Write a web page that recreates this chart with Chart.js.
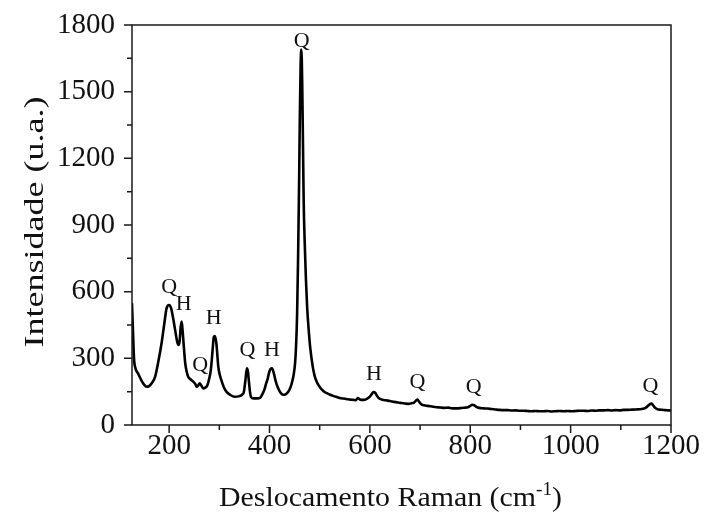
<!DOCTYPE html>
<html>
<head>
<meta charset="utf-8">
<title>Espectro Raman</title>
<script src="https://cdn.jsdelivr.net/npm/chart.js@4.4.1/dist/chart.umd.min.js"></script>
<style>
  html, body { margin: 0; padding: 0; background: #fff; }
  #wrap { width: 707px; height: 514px; }
</style>
</head>
<body>
<div id="wrap"><canvas id="raman" width="707" height="514"></canvas></div>
<script>
// Raman shift (cm-1) and measured intensity (a.u.)
const ramanShift = [
  126, 128, 130, 133, 138, 145, 150, 155, 160, 166, 172, 178, 185, 190, 195, 200,
  204, 208, 212, 216, 219, 221, 223, 225, 227, 229, 232, 235, 238, 243, 248, 252,
  255, 258, 261, 264, 268, 272, 276, 280, 283, 286, 289, 291, 294, 298, 301, 304,
  309, 314, 322, 331, 340, 346, 349, 352, 355, 357, 359, 361, 363, 368, 376, 381,
  386, 390, 393, 396, 399, 402, 405, 408, 412, 417, 422, 427, 432, 437, 441, 444,
  448, 451, 453, 455, 457, 459, 460.5, 462, 463.5, 465, 466.5, 468, 470, 472.5, 475, 478,
  481, 486, 490, 494, 499, 504, 509, 514, 520, 527, 534, 540, 547, 555, 561, 567,
  572, 576, 580, 587, 594, 600, 604, 607, 610, 614, 618, 625, 632, 640, 648, 656,
  663, 670, 677, 683, 688, 692, 695, 698, 703, 710, 718, 726, 733, 740, 748, 756,
  764, 772, 780, 788, 795, 800, 804, 808, 812, 818, 826, 834, 842, 850, 858, 866,
  874, 882, 890, 898, 906, 914, 922, 930, 938, 946, 954, 962, 970, 978, 986, 994,
  1002, 1010, 1018, 1026, 1034, 1042, 1050, 1058, 1066, 1074, 1082, 1090, 1098, 1106, 1114, 1122,
  1130, 1138, 1144, 1150, 1155, 1158, 1161, 1164, 1168, 1173, 1180, 1188, 1194, 1200
];
const intensity = [
  548, 420, 300, 255, 232, 200, 182, 172, 175, 190, 217, 280, 369, 450, 526, 540,
  525, 480, 427, 375, 360, 380, 440, 465, 420, 360, 279, 240, 217, 205, 195, 185,
  172, 178, 188, 178, 165, 168, 178, 210, 247, 320, 395, 400, 370, 262, 225, 202,
  170, 150, 135, 127, 130, 138, 150, 202, 255, 240, 195, 150, 127, 120, 120, 122,
  140, 160, 185, 205, 235, 252, 255, 238, 200, 166, 145, 136, 138, 148, 165, 185,
  225, 280, 360, 500, 760, 1100, 1400, 1620, 1690, 1560, 1300, 1020, 830, 660, 530, 430,
  350, 265, 220, 195, 175, 160, 150, 143, 137, 131, 126, 122, 119, 116, 114, 113,
  112, 121, 115, 113, 118, 128, 140, 148, 146, 132, 120, 114, 111, 108, 104, 101,
  99, 97, 95, 98, 101, 110, 114, 105, 92, 88, 85, 82, 80, 79, 77, 78,
  75, 75, 76, 78, 80, 86, 91, 89, 82, 77, 75, 74, 72, 70, 68, 67,
  67, 65, 66, 64, 64, 63, 62, 63, 62, 62, 63, 61, 62, 63, 62, 63,
  62, 63, 64, 64, 63, 65, 64, 66, 66, 67, 65, 67, 66, 68, 68, 69,
  70, 71, 73, 78, 88, 94, 96, 90, 78, 71, 69, 67, 66, 65
];

// band assignments: Q = quartzo, H = hematita
const peakShifts = [200, 229, 262, 289, 356, 405, 464, 608, 695, 807, 1159];
const peakPhases = ['Q', 'H', 'Q', 'H', 'Q', 'H', 'Q', 'H', 'Q', 'Q', 'Q'];

const xTicks = [200, 300, 400, 500, 600, 700, 800, 900, 1000, 1100, 1200];
const xLabelled = [200, 400, 600, 800, 1000, 1200];
const yTicks = [0, 150, 300, 450, 600, 750, 900, 1050, 1200, 1350, 1500, 1650, 1800];
const yLabelled = [0, 300, 600, 900, 1200, 1500, 1800];

const serif = "'Liberation Serif', 'Times New Roman', serif";

// draws a run of text pieces (with optional superscripts) squeezed to a given length
function drawRun(ctx, parts, cx, cy, length, angle) {
  let total = 0;
  parts.forEach(p => {
    ctx.font = p.size + 'px ' + serif;
    p.w = ctx.measureText(p.t).width;
    total += p.w;
  });
  ctx.save();
  ctx.translate(cx, cy);
  ctx.rotate(angle);
  ctx.scale(length / total, 1);
  ctx.textAlign = 'left';
  let pos = -total / 2;
  parts.forEach(p => {
    ctx.font = p.size + 'px ' + serif;
    ctx.fillText(p.t, pos, -p.rise);
    pos += p.w;
  });
  ctx.restore();
}

const frame = {
  id: 'frame',
  afterDatasetsDraw(chart) {
    const { ctx, chartArea: a, scales: { x, y } } = chart;
    ctx.save();

    // box + outward tick marks
    ctx.strokeStyle = '#1a1a1a';
    ctx.lineWidth = 1.5;
    ctx.strokeRect(a.left, a.top, a.right - a.left, a.bottom - a.top);
    ctx.beginPath();
    x.ticks.forEach(t => {
      const px = x.getPixelForValue(t.value);
      const len = xLabelled.includes(t.value) ? 8 : 5;
      ctx.moveTo(px, a.bottom);
      ctx.lineTo(px, a.bottom + len);
    });
    y.ticks.forEach(t => {
      const py = y.getPixelForValue(t.value);
      const len = yLabelled.includes(t.value) ? 8 : 5;
      ctx.moveTo(a.left, py);
      ctx.lineTo(a.left - len, py);
    });
    ctx.stroke();

    // phase letters above each band
    ctx.fillStyle = '#111';
    ctx.font = '22px ' + serif;
    ctx.textAlign = 'center';
    ctx.textBaseline = 'alphabetic';
    peakShifts.forEach((s, i) => {
      let top = 0;
      ramanShift.forEach((v, j) => {
        if (Math.abs(v - s) <= 6) top = Math.max(top, intensity[j]);
      });
      const py = Math.max(y.getPixelForValue(top) - 12, a.top + 22);
      ctx.fillText(peakPhases[i], x.getPixelForValue(s), py);
    });

    // axis titles
    ctx.textBaseline = 'alphabetic';
    drawRun(ctx, [
      { t: 'Deslocamento Raman (cm', size: 28, rise: 0 },
      { t: '-1', size: 18, rise: 11 },
      { t: ')', size: 28, rise: 0 }
    ], (a.left + a.right) / 2 - 11, a.bottom + 81, 343, 0);
    ctx.textBaseline = 'middle';
    drawRun(ctx, [{ t: 'Intensidade (u.a.)', size: 28, rise: 0 }],
      36, (a.top + a.bottom) / 2 - 3, 251, -Math.PI / 2);

    ctx.restore();
  }
};

new Chart(document.getElementById('raman'), {
  type: 'line',
  data: {
    datasets: [{
      data: ramanShift.map((v, i) => ({ x: v, y: intensity[i] })),
      borderColor: '#000',
      borderWidth: 2.6,
      pointRadius: 0,
      cubicInterpolationMode: 'monotone',
      fill: false
    }]
  },
  options: {
    responsive: false,
    animation: false,
    layout: { padding: { top: 25, right: 36, left: 0, bottom: 0 } },
    plugins: { legend: { display: false }, tooltip: { enabled: false } },
    scales: {
      x: {
        type: 'linear',
        min: 126,
        max: 1200,
        afterBuildTicks: s => { s.ticks = xTicks.map(v => ({ value: v })); },
        afterFit: s => {
          s.height = 89;
          s.paddingLeft = 0;
          s.paddingRight = 0;
        },
        grid: { display: false, drawTicks: false },
        border: { display: false },
        ticks: {
          autoSkip: false,
          maxRotation: 0,
          padding: 4,
          color: '#111',
          font: { family: serif, size: 29 },
          callback: v => xLabelled.includes(v) ? String(v) : ''
        },
        title: { display: false }
      },
      y: {
        min: 0,
        max: 1800,
        afterBuildTicks: s => { s.ticks = yTicks.map(v => ({ value: v })); },
        afterFit: s => {
          s.width = 132;
          s.paddingTop = 0;
          s.paddingBottom = 0;
        },
        grid: { display: false, drawTicks: false },
        border: { display: false },
        ticks: {
          autoSkip: false,
          padding: 17,
          color: '#111',
          font: { family: serif, size: 29 },
          callback: v => yLabelled.includes(v) ? String(v) : ''
        },
        title: { display: false }
      }
    }
  },
  plugins: [frame]
});
</script>
</body>
</html>
